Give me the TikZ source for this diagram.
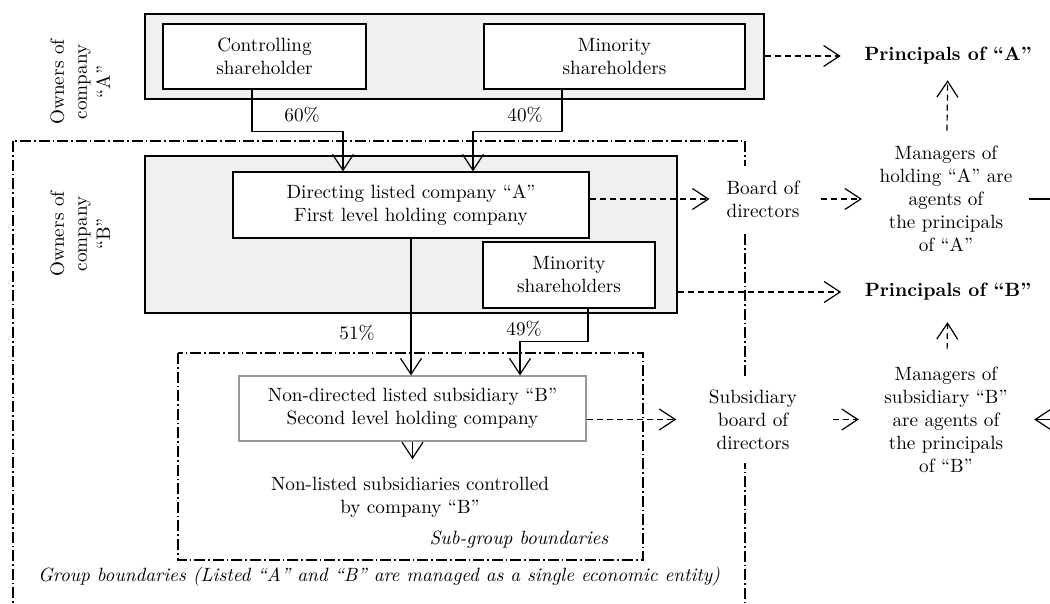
\documentclass[tikz,border=0pt]{standalone}
\usepackage{tikz}
\usetikzlibrary{arrows.meta}
\usepackage{amsmath}

\begin{document}
\begin{tikzpicture}[
            > = {Straight Barb[length=8pt, width=10.5pt]}, % open arrow head
            x = 0.5pt, y = -0.5pt, % pixel grid, y going down
            semithick, % line style
            font = \fontsize{9.6}{11.5}\selectfont
        ]

        \tikzstyle{owners}=[
            draw = black,
            fill = black!6,
            inner sep = 0pt
        ]
        \tikzstyle{company}=[
            draw = black,
            fill = white,
            align = center,
            inner sep = 0pt
        ]
        \tikzstyle{plain}=[align = center, inner sep = 0pt]
        \tikzstyle{agency}=[->, dash pattern = on 3pt off 2pt]
        \tikzstyle{boundary}=[dash pattern = on 5.5pt off 1.5pt on 0.8pt off 1.5pt]

        \useasboundingbox (0,0) rectangle (1050,604);

        % group and sub-group
        \draw[boundary] (13,141) rectangle (745,720);
        \draw[boundary] (178,353) rectangle (643,560);

        \node[owners, minimum width=309.5pt, minimum height=42.5pt] (ownA) at (454.5,56.5) {};
        \node[owners, minimum width=266pt, minimum height=78.5pt] (ownB) at (411,234.5) {};

        \node[company, minimum width=101.5pt, minimum height=32.5pt] (ctrl) at (264.5,56.5) {Controlling\\shareholder};
        \node[company, minimum width=130.5pt, minimum height=32.5pt] (minA) at (614.5,56.5) {Minority\\shareholders};
        \node[company, minimum width=178pt, minimum height=33pt] (dirA) at (411,205) {Directing listed company ``A''\\First level holding company};
        \node[company, minimum width=86pt, minimum height=33pt] (minB) at (569,275) {Minority\\shareholders};
        \node[company, draw=black!40, minimum width=173.5pt, minimum height=32.5pt] (subB) at (412.5,408.5) {Non-directed listed subsidiary ``B''\\Second level holding company};
        \node[plain] (nonl) at (410,497) {Non-listed subsidiaries controlled\\by company ``B''};

        \node[plain, rotate=90] (labA) at (80,82) {Owners of\\company\\``A''};
        \node[plain, rotate=90] (labB) at (80,234) {Owners of\\company\\``B''};

        \node[plain] (p60) at (302,115) {60\%};
        \node[plain] (p40) at (525,115) {40\%};
        \node[plain] (p51) at (357,333) {51\%};
        \node[plain] (p49) at (524,329) {49\%};

        \node[plain, font=\fontsize{9.6}{11.5}\selectfont\itshape] (subtxt) at (519,540) {Sub-group boundaries};
        \node[plain, font=\fontsize{9.6}{11.5}\selectfont\itshape] (grptxt) at (379,577) {Group boundaries (Listed ``A'' and ``B'' are managed as a single economic entity)};

        \node[plain, fill=white, inner ysep=7.5pt] (board) at (763,199) {Board of\\directors};
        \node[plain, fill=white, inner ysep=7pt] (subboard) at (753,419.5) {Subsidiary\\board of\\directors};
        \node[plain, font=\fontsize{9.6}{11.5}\selectfont\bfseries] (princA) at (948,56) {Principals of ``A''};
        \node[plain, font=\fontsize{9.6}{11.5}\selectfont\bfseries] (princB) at (948,292) {Principals of ``B''};
        \node[plain] (mgrA) at (946,199) {Managers of\\holding ``A'' are\\agents of\\the principals\\of ``A''};
        \node[plain] (mgrB) at (946,419.5) {Managers of\\subsidiary ``B''\\are agents of\\the principals\\of ``B''};

        \coordinate (offright) at (1080,300);

        % shareholdings
        \draw[->] ([xshift=-6.25pt]ctrl.south) -- ++(0,42) -| ([xshift=-34pt]dirA.north);
        \draw[->] ([xshift=-26.25pt]minA.south) -- ++(0,42) -| ([xshift=31pt]dirA.north);
        \draw[->] (dirA.south) -- (dirA.south |- subB.north);
        \draw[->] ([xshift=9.5pt]minB.south) -- ++(0,33) -| ([xshift=53.75pt]subB.north);
        \draw[->, shorten >=8.5pt] (subB.south) -- (subB.south |- nonl.north);

        % agency relations
        \draw[agency, shorten >=11.5pt] (ownA.east |- princA) -- (princA);
        \draw[agency, shorten >=11.5pt] (ownB.east |- princB) -- (princB);
        \draw[agency, shorten >=8.25pt] (dirA.east |- board) -- (board);
        \draw[agency, shorten <=10.25pt, shorten >=8.5pt] (board) -- (mgrA);
        \draw[agency, shorten >=16pt] (subB.east |- subboard) -- (subboard);
        \draw[agency, shorten <=17.5pt, shorten >=12.5pt] (subboard) -- (mgrB);
        \draw[agency, shorten <=7.5pt, shorten >=7.5pt] (mgrA) -- (princA);
        \draw[agency, shorten <=8.5pt, shorten >=10.5pt] (mgrB) -- (princB);
        \draw[->, shorten <=8pt, shorten >=13pt] (mgrA.east) -- (mgrA.east -| offright) |- (mgrB.east);
    \end{tikzpicture}
\end{document}
